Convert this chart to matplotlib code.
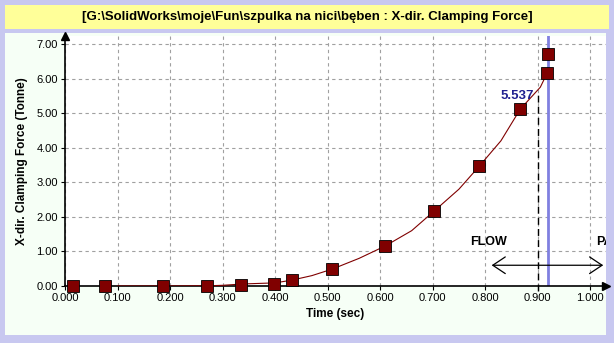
from matplotlib import pyplot as plt
from matplotlib.patches import Rectangle

plt.rcParams['font.family'] = ['Liberation Sans', 'DejaVu Sans']

# sampled results (squares)
t_pts = [0.015, 0.076, 0.187, 0.270, 0.335, 0.398, 0.432, 0.509, 0.610, 0.703, 0.789, 0.867, 0.918, 0.920]
f_pts = [0.00, 0.00, 0.01, 0.01, 0.04, 0.07, 0.17, 0.49, 1.16, 2.17, 3.47, 5.12, 6.16, 6.71]

# continuous curve
t_line = [0.100, 0.200, 0.280, 0.300, 0.340, 0.400, 0.432, 0.470, 0.509, 0.560, 0.610, 0.660,
          0.703, 0.750, 0.789, 0.830, 0.867, 0.890, 0.905, 0.918]
f_line = [0.00, 0.00, 0.01, 0.02, 0.06, 0.09, 0.17, 0.30, 0.49, 0.80, 1.16, 1.60,
          2.17, 2.80, 3.47, 4.20, 5.12, 5.50, 5.75, 6.16]

xticks = [0.0, 0.1, 0.2, 0.3, 0.4, 0.5, 0.6, 0.7, 0.8, 0.9, 1.0]
yticks = [0, 1, 2, 3, 4, 5, 6, 7]
t_mark = 0.920
t_flow = 0.900
val_label = '5.537'
title = '[G:\\SolidWorks\\moje\\Fun\\szpulka na nici\\bęben : X-dir. Clamping Force]'

W, H = 614, 343
fig = plt.figure(figsize=(W / 100, H / 100), dpi=100)
fig.patch.set_facecolor('#c8c8f0')

# yellow title box and pale panel
fig.patches.append(Rectangle((5 / W, 1 - 29 / H), 604 / W, 24 / H, transform=fig.transFigure,
                             facecolor='#ffff99', edgecolor='none', zorder=-10))
fig.patches.append(Rectangle((5 / W, 1 - 335 / H), 601 / W, 302 / H, transform=fig.transFigure,
                             facecolor='#f6fff6', edgecolor='none', zorder=-10))
fig.text(307 / W, 1 - 17 / H, title, ha='center', va='center', fontsize=9.5, fontweight='bold')

ax = fig.add_axes([65 / W, 57 / H, 541 / W, 250 / H])
ax.set_facecolor('white')
ax.set_xlim(0, 1.03)
ax.set_ylim(0, 7.23)

ax.set_xticks(xticks)
ax.set_xticklabels(['%.3f' % v for v in xticks], fontsize=8)
ax.set_yticks(yticks)
ax.set_yticklabels(['%.2f' % v for v in yticks], fontsize=8)
ax.tick_params(length=3, width=0.8, pad=2)
ax.grid(True, color='#a0a0a0', linestyle=(0, (3, 3)), linewidth=0.8)

for s in ['top', 'right']:
    ax.spines[s].set_visible(False)
for s in ['left', 'bottom']:
    ax.spines[s].set_linewidth(1.2)
ax.plot(1, 0, '>k', ms=6, transform=ax.transAxes, clip_on=False)
ax.plot(0, 1, '^k', ms=6, transform=ax.transAxes, clip_on=False)

ax.set_xlabel('Time (sec)', fontsize=8.5, fontweight='bold', labelpad=4)
ax.set_ylabel('X-dir. Clamping Force (Tonne)', fontsize=8.5, fontweight='bold', labelpad=6)

ax.plot(t_line, f_line, color='#800000', linewidth=0.8, zorder=3)
ax.plot(t_pts, f_pts, 's', color='#800000', markeredgecolor='black', markeredgewidth=0.6,
        ms=8.5, zorder=4, clip_on=False)

ax.axvline(t_mark, color='#8080e0', linewidth=2, zorder=2)
ax.plot([t_flow, t_flow], [-0.15, 5.6], color='black', linestyle=(0, (5, 3)), linewidth=1,
        clip_on=False, zorder=3)
ax.text(0.893, 5.5, val_label, color='#202090', fontsize=9.5, fontweight='bold',
        ha='right', va='center', zorder=5)

ax.text(0.806, 1.27, 'FLOW', fontsize=9, fontweight='bold', ha='center', va='center')
ax.text(1.012, 1.27, 'PA', fontsize=9, fontweight='bold', ha='left', va='center', clip_on=True)
ax.annotate('', xy=(0.807, 0.6), xytext=(1.03, 0.6),
            arrowprops=dict(arrowstyle='<->,head_length=0.9,head_width=0.6', color='black', lw=0.9))

fig.savefig('out.png', dpi=100, facecolor=fig.get_facecolor())
